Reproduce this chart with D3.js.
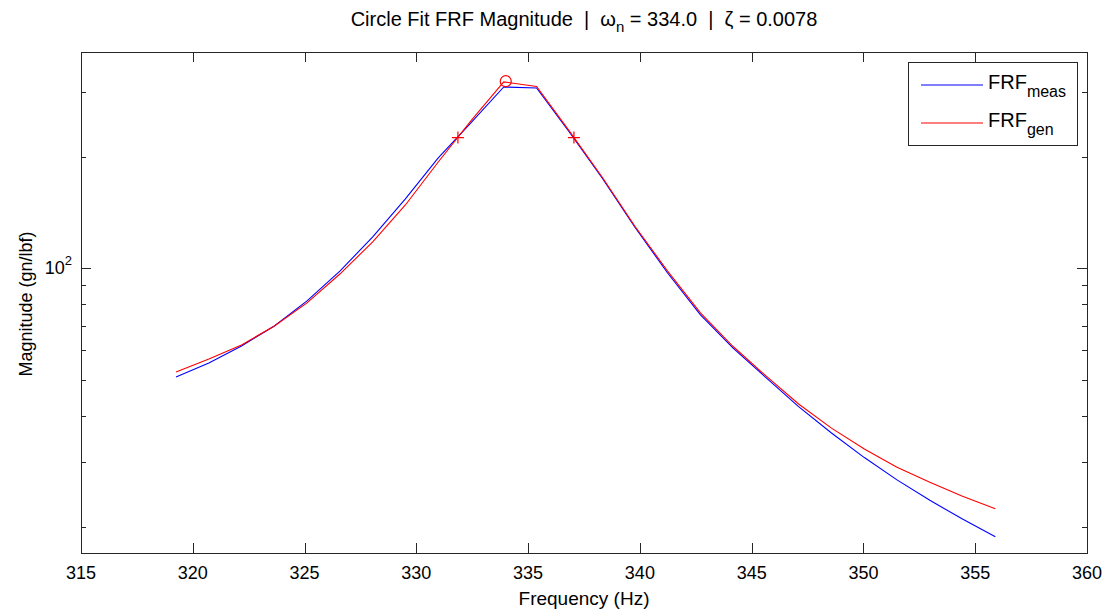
<!DOCTYPE html>
<html>
<head>
<meta charset="utf-8">
<script src="https://cdn.jsdelivr.net/npm/d3@7"></script>
<style>
  body { margin: 0; background: #ffffff; }
  svg { display: block; font-family: "Liberation Sans", Arial, sans-serif; }
  text { white-space: pre; }
</style>
</head>
<body>
<div id="chart"></div>
<script>
// frequency lines of the measurement (Hz)
var freq = [319.25, 320.72, 322.18, 323.65, 325.11, 326.58, 328.05, 329.51, 330.98, 332.44,
            333.91, 335.38, 336.84, 338.31, 339.77, 341.24, 342.71, 344.17, 345.64, 347.10,
            348.57, 350.04, 351.50, 352.97, 354.43, 355.90];

// measured FRF magnitude (gn/lbf)
var frfMeas = [50.9, 55.5, 61.7, 69.9, 81.7, 98.4, 121.7, 154.2, 199.0, 247.5,
               309.7, 307.8, 234.0, 175.7, 129.5, 97.2, 74.9, 60.9, 50.7, 42.3,
               35.9, 30.8, 26.8, 23.6, 21.0, 18.8];

// generated (circle fit) FRF magnitude
var frfGen = [52.5, 56.9, 62.1, 69.9, 80.7, 96.6, 118.0, 148.5, 194.1, 250.6,
              319.5, 310.7, 235.5, 176.8, 130.3, 98.4, 75.8, 61.5, 51.2, 43.0,
              37.0, 32.5, 29.0, 26.4, 24.2, 22.4];

// natural frequency marker and half power points
var peakFreq = [334.0];
var peakMag = [321];
var halfFreq = [331.86, 337.05];
var halfMag = [226, 226];

// ticks
var xTicks = [315, 320, 325, 330, 335, 340, 345, 350, 355, 360];
var yMajorTicks = [100];
var yMinorTicks = [20, 30, 40, 50, 60, 70, 80, 90, 200, 300];

var width = 1106;
var height = 610;
var plotLeft = 81, plotRight = 1087, plotTop = 52, plotBottom = 553;
var color_axis = "#262626";
var color_meas = "#0000ff";
var color_gen = "#ff0000";

var svg = d3.select("#chart")
  .append("svg")
  .attr("width", width)
  .attr("height", height);

var x = d3.scaleLinear().domain([315, 360]).range([plotLeft, plotRight]);
var y = d3.scaleLog().domain([17, 385]).range([plotBottom, plotTop]);

//ticks on all four sides, pointing inwards
var axes = svg.append("g").attr("stroke", color_axis).attr("stroke-width", 1);

xTicks.forEach(function(t) {
  var px = Math.round(x(t)) + 0.5;
  axes.append("line").attr("x1", px).attr("x2", px).attr("y1", plotBottom).attr("y2", plotBottom - 10);
  axes.append("line").attr("x1", px).attr("x2", px).attr("y1", plotTop).attr("y2", plotTop + 10);
});

yMajorTicks.forEach(function(t) {
  var py = Math.round(y(t)) + 0.5;
  axes.append("line").attr("x1", plotLeft).attr("x2", plotLeft + 10).attr("y1", py).attr("y2", py);
  axes.append("line").attr("x1", plotRight).attr("x2", plotRight - 10).attr("y1", py).attr("y2", py);
});

yMinorTicks.forEach(function(t) {
  var py = Math.round(y(t)) + 0.5;
  axes.append("line").attr("x1", plotLeft).attr("x2", plotLeft + 5).attr("y1", py).attr("y2", py);
  axes.append("line").attr("x1", plotRight).attr("x2", plotRight - 5).attr("y1", py).attr("y2", py);
});

//box
svg.append("rect")
  .attr("x", plotLeft + 0.5)
  .attr("y", plotTop + 0.5)
  .attr("width", plotRight - plotLeft)
  .attr("height", plotBottom - plotTop)
  .attr("fill", "none")
  .attr("stroke", color_axis)
  .attr("stroke-width", 1);

//tick labels
svg.append("g").selectAll("text")
  .data(xTicks)
  .enter().append("text")
  .attr("x", function(d) { return x(d); })
  .attr("y", plotBottom + 26)
  .attr("text-anchor", "middle")
  .attr("font-size", 18)
  .attr("fill", "#000")
  .text(function(d) { return d; });

yMajorTicks.forEach(function(t) {
  var lab = svg.append("text")
    .attr("x", plotLeft - 9)
    .attr("y", y(t) + 6)
    .attr("text-anchor", "end")
    .attr("font-size", 18)
    .attr("fill", "#000");
  lab.append("tspan").text("10");
  lab.append("tspan").attr("font-size", 13).attr("dy", -9).text(Math.round(Math.log10(t)));
});

//curves
var line = d3.line()
  .x(function(d) { return x(d[0]); })
  .y(function(d) { return y(d[1]); });

svg.append("path")
  .datum(d3.zip(freq, frfMeas))
  .attr("d", line)
  .attr("fill", "none")
  .attr("stroke", color_meas)
  .attr("stroke-width", 1.1);

svg.append("path")
  .datum(d3.zip(freq, frfGen))
  .attr("d", line)
  .attr("fill", "none")
  .attr("stroke", color_gen)
  .attr("stroke-width", 1.1);

//markers
svg.selectAll(".peak")
  .data(d3.zip(peakFreq, peakMag))
  .enter().append("circle")
  .attr("cx", function(d) { return x(d[0]); })
  .attr("cy", function(d) { return y(d[1]); })
  .attr("r", 5.5)
  .attr("fill", "none")
  .attr("stroke", color_gen)
  .attr("stroke-width", 1.2);

svg.selectAll(".half")
  .data(d3.zip(halfFreq, halfMag))
  .enter().append("path")
  .attr("d", function(d) {
    var cx = x(d[0]), cy = y(d[1]), s = 6;
    return "M" + (cx - s) + "," + cy + "H" + (cx + s) + "M" + cx + "," + (cy - s) + "V" + (cy + s);
  })
  .attr("fill", "none")
  .attr("stroke", color_gen)
  .attr("stroke-width", 1.2);

//legend
var key = svg.append("g");
key.append("rect")
  .attr("x", 908.5).attr("y", 62.5)
  .attr("width", 169).attr("height", 83)
  .attr("fill", "#fff")
  .attr("stroke", color_axis)
  .attr("stroke-width", 1);

var entries = [["meas", color_meas, 85], ["gen", color_gen, 123]];
entries.forEach(function(e) {
  key.append("line")
    .attr("x1", 921).attr("x2", 983)
    .attr("y1", e[2]).attr("y2", e[2])
    .attr("stroke", e[1])
    .attr("stroke-width", 1.2);
  var t = key.append("text")
    .attr("x", 988)
    .attr("y", e[2] + 3.5)
    .attr("font-size", 20)
    .attr("fill", "#000");
  t.append("tspan").text("FRF");
  t.append("tspan").attr("font-size", 16).attr("dy", 8).text(e[0]);
});

//titles
var title = svg.append("text")
  .attr("x", (plotLeft + plotRight) / 2)
  .attr("y", 26)
  .attr("text-anchor", "middle")
  .attr("font-size", 20)
  .attr("fill", "#000");
title.append("tspan").text("Circle Fit FRF Magnitude  |  \u03c9");
title.append("tspan").attr("font-size", 15).attr("dy", 6).text("n");
title.append("tspan").attr("dy", -6).text(" = 334.0  |  \u03b6 = 0.0078");

svg.append("text")
  .attr("x", (plotLeft + plotRight) / 2)
  .attr("y", 605)
  .attr("text-anchor", "middle")
  .attr("font-size", 19)
  .attr("fill", "#000")
  .text("Frequency (Hz)");

svg.append("text")
  .attr("transform", "translate(" + 32 + "," + 304 + ") rotate(-90)")
  .attr("text-anchor", "middle")
  .attr("font-size", 18)
  .attr("fill", "#000")
  .text("Magnitude (gn/lbf)");
</script>
</body>
</html>
